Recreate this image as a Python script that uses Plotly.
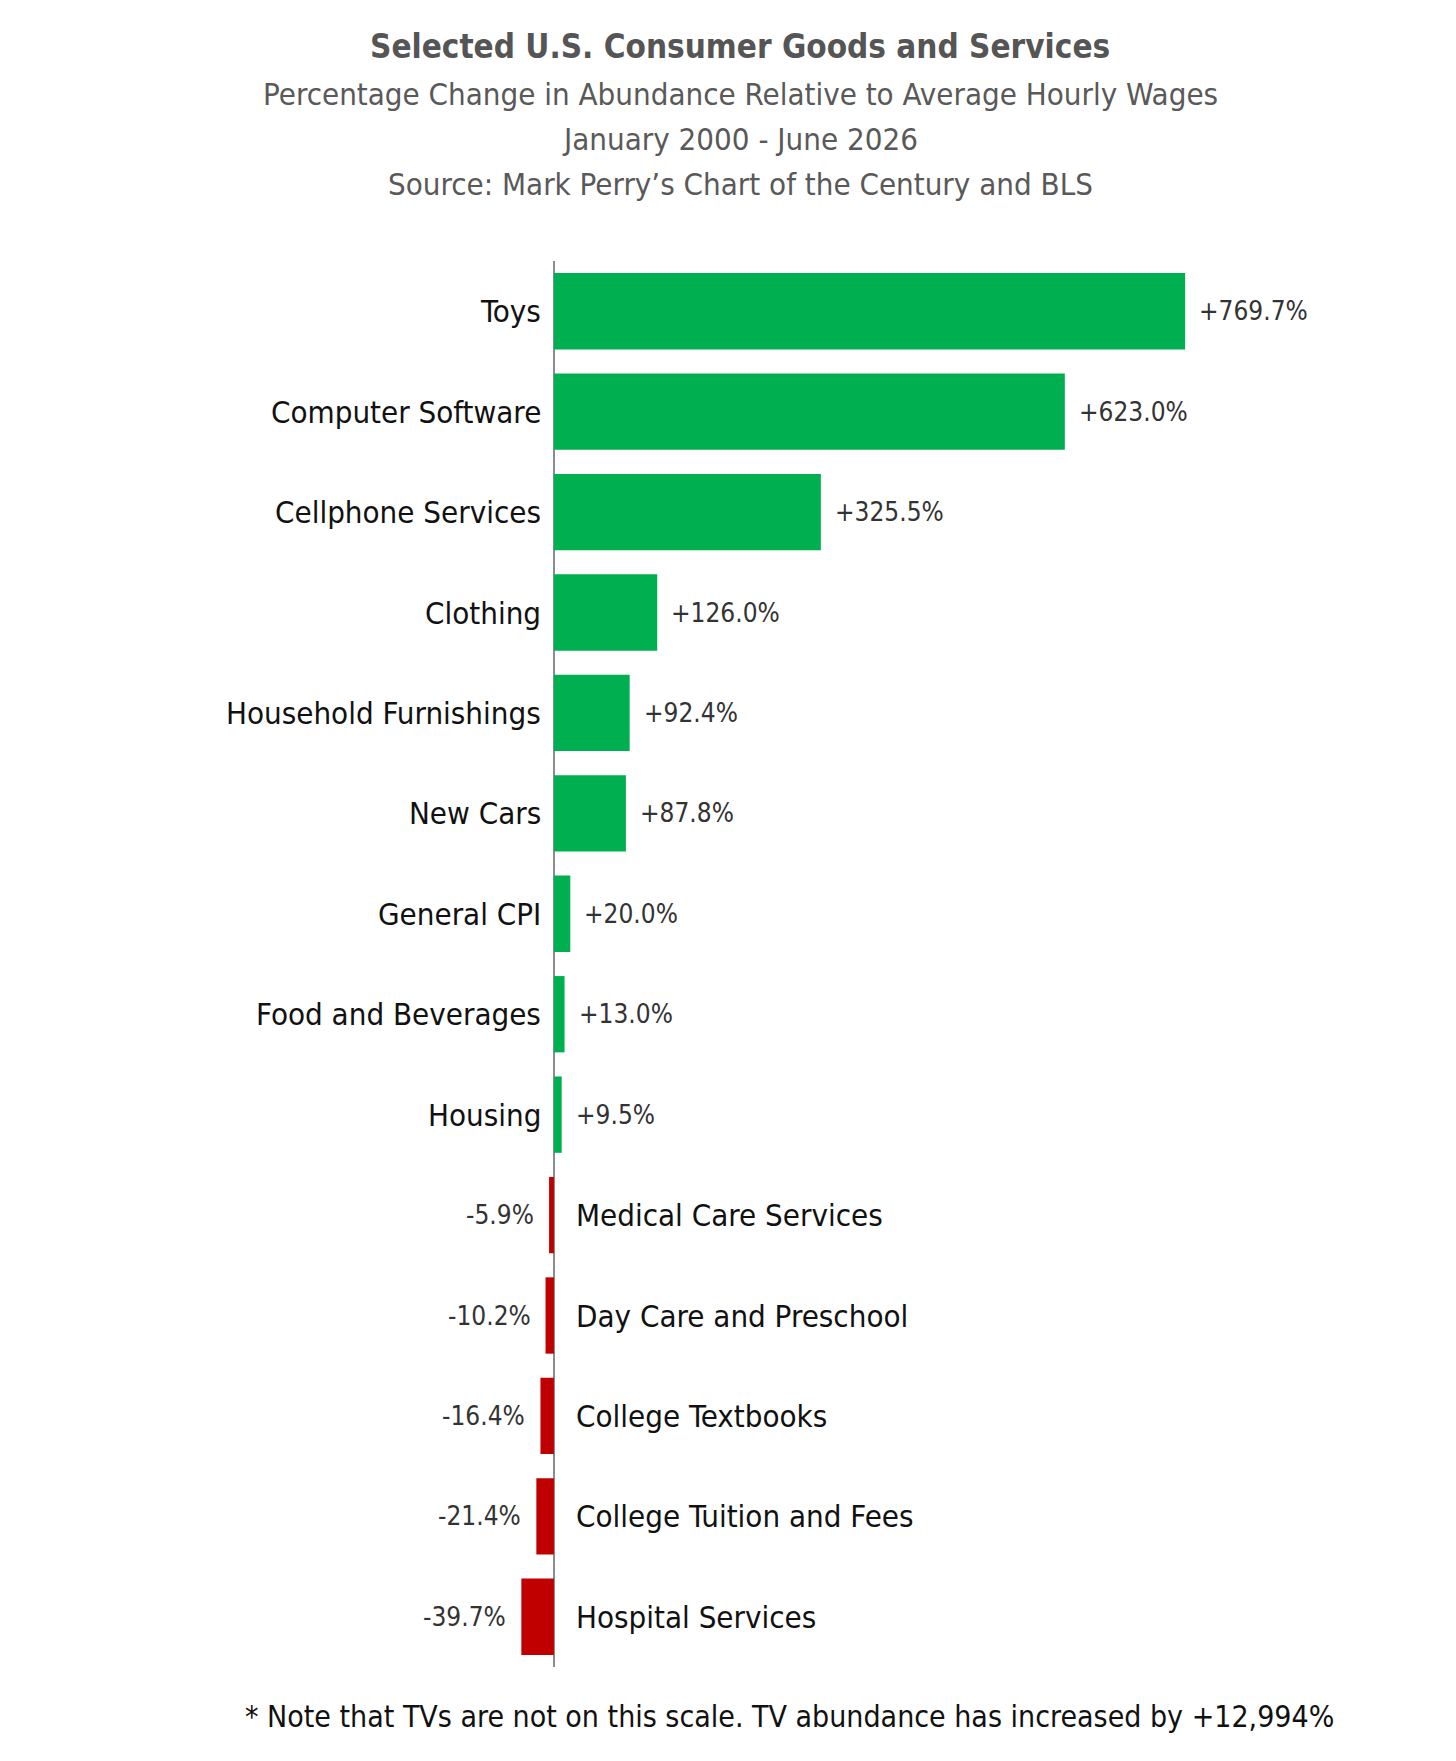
import plotly.graph_objects as go

# Data
categories = [
    "Toys", "Computer Software", "Cellphone Services", "Clothing",
    "Household Furnishings", "New Cars", "General CPI", "Food and Beverages",
    "Housing", "Medical Care Services", "Day Care and Preschool",
    "College Textbooks", "College Tuition and Fees", "Hospital Services",
]
pct_change = [769.7, 623.0, 325.5, 126.0, 92.4, 87.8, 20.0, 13.0, 9.5,
              -5.9, -10.2, -16.4, -21.4, -39.7]

title_text = "Selected U.S. Consumer Goods and Services"
subtitle_lines = [
    "Percentage Change in Abundance Relative to Average Hourly Wages",
    "January 2000 - June 2026",
    "Source: Mark Perry\u2019s Chart of the Century and BLS",
]
footnote = "* Note that TVs are not on this scale. TV abundance has increased by +12,994%"

FONT = "Liberation Sans Narrow, DejaVu Sans Condensed, Arial Narrow, sans-serif"
GREEN = "#00B050"
RED = "#C00000"

colors = [GREEN if v >= 0 else RED for v in pct_change]

fig = go.Figure()
fig.add_trace(go.Bar(
    x=pct_change,
    y=categories,
    orientation="h",
    marker=dict(color=colors, line=dict(width=0)),
    hoverinfo="x+y",
    showlegend=False,
))

annotations = []
for cat, v in zip(categories, pct_change):
    # category name beside the axis
    annotations.append(dict(
        x=0, y=cat, xref="x", yref="y",
        text=cat, showarrow=False,
        xanchor="right" if v >= 0 else "left",
        xshift=-11 if v >= 0 else 20,
        font=dict(family=FONT, size=31, color="#111111"),
    ))
    # value label at bar end
    annotations.append(dict(
        x=v, y=cat, xref="x", yref="y",
        text=f"{v:+.1f}%", showarrow=False,
        xanchor="left" if v >= 0 else "right",
        xshift=12 if v >= 0 else -13,
        font=dict(family=FONT, size=26, color="#333333"),
    ))

# titles
annotations.append(dict(
    x=0.288, y=1.1529, xref="paper", yref="paper", showarrow=False,
    text=f"<b>{title_text}</b>", xanchor="center", yanchor="middle",
    font=dict(family=FONT, size=33, color="#555555"),
))
for i, line in enumerate(subtitle_lines):
    annotations.append(dict(
        x=0.288, y=1.1188 - i * 0.03196, xref="paper", yref="paper",
        showarrow=False, text=line, xanchor="center", yanchor="middle",
        font=dict(family=FONT, size=31, color="#595959"),
    ))
annotations.append(dict(
    x=0.352, y=-0.0349, xref="paper", yref="paper", showarrow=False,
    text=footnote, xanchor="center", yanchor="middle",
    font=dict(family=FONT, size=30, color="#111111"),
))

fig.update_layout(
    width=1456, height=1761, autosize=False,
    margin=dict(l=509, r=172, t=253, b=102),
    plot_bgcolor="white", paper_bgcolor="white",
    bargap=0.24,
    annotations=annotations,
    xaxis=dict(
        range=[-45, 900], showgrid=False, showticklabels=False,
        zeroline=True, zerolinecolor="#8c8c8c", zerolinewidth=1.5,
        fixedrange=True,
    ),
    yaxis=dict(
        type="category", categoryorder="array", categoryarray=categories,
        range=[13.5, -0.5], showgrid=False, showticklabels=False,
        zeroline=False, fixedrange=True,
    ),
)

fig.write_html("out.html")
